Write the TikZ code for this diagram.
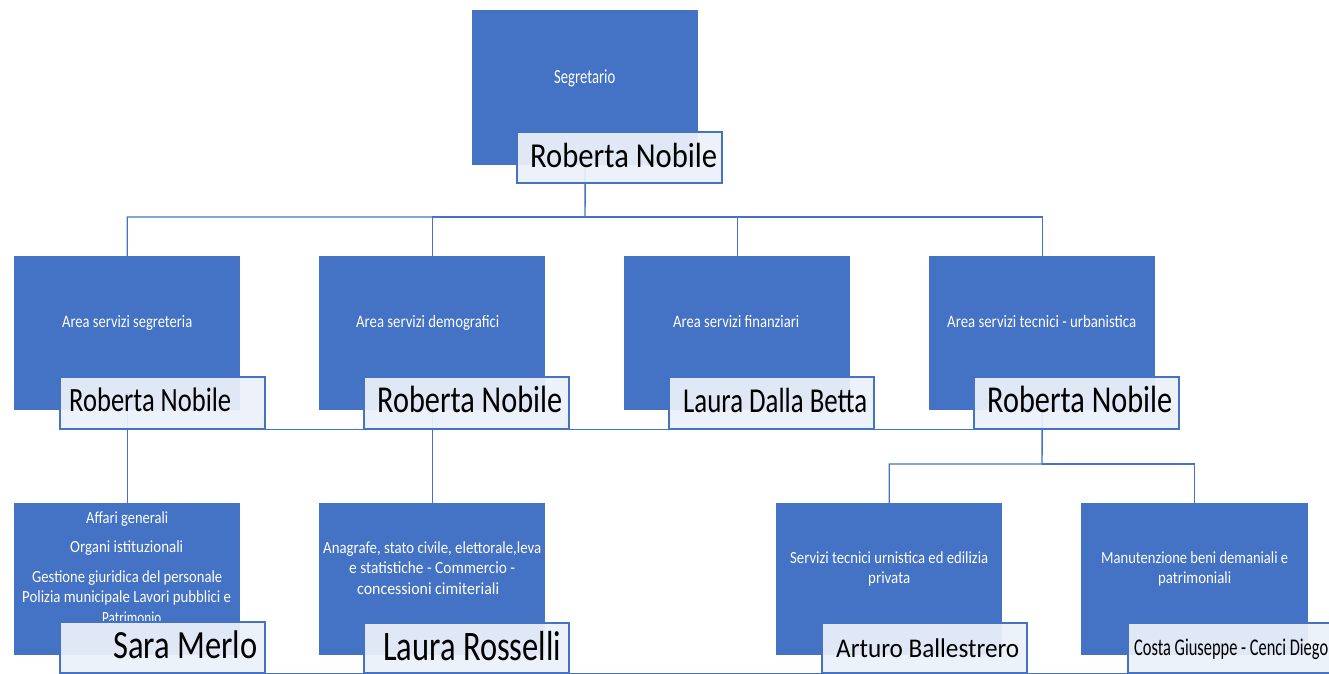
\documentclass[tikz,border=0pt]{standalone}
\usepackage{fontspec}
\setmainfont{Carlito}
\usepackage{graphicx}
\definecolor{orgblue}{HTML}{4472C4}
\definecolor{namefill}{HTML}{ECF0F9}
\newcommand\fitt[3]{\resizebox{#1pt}{\height}{\fontsize{#2pt}{#2pt}\selectfont #3}}
\tikzset{
  bluebox/.style={rectangle, fill=orgblue, draw=none, anchor=north west, inner sep=0pt},
  namebox/.style={rectangle, fill=namefill, fill opacity=0.93, draw=orgblue, line width=1.6pt, anchor=north west, inner sep=0pt, minimum width=205pt, minimum height=51pt},
  conn/.style={draw=orgblue, line width=1.4pt},
  wlbl/.style={inner sep=0pt, text=white, anchor=base west},
  blbl/.style={inner sep=0pt, text=black, anchor=base west}
}
\begin{document}
\begin{tikzpicture}[x=1pt,y=-1pt]
\useasboundingbox (0,0) rectangle (1329,673);
\clip (0,0) rectangle (1329,673);
\fill[white] (0,0) rectangle (1329,673);
% blue boxes
\node[bluebox, minimum width=226pt, minimum height=155pt] (tb) at (472,10) {};
\node[bluebox, minimum width=226pt, minimum height=154pt] (a1) at (14,256) {};
\node[bluebox, minimum width=226pt, minimum height=154pt] (a2) at (319,256) {};
\node[bluebox, minimum width=226pt, minimum height=154pt] (a3) at (624,256) {};
\node[bluebox, minimum width=226pt, minimum height=154pt] (a4) at (929,256) {};
\node[bluebox, minimum width=226pt, minimum height=152pt] (b1) at (14,503) {};
\node[bluebox, minimum width=226pt, minimum height=152pt] (b2) at (319,503) {};
\node[bluebox, minimum width=226pt, minimum height=152pt] (b3) at (776,503) {};
\node[bluebox, minimum width=227pt, minimum height=152pt] (b4) at (1081,503) {};
% texts in blue boxes
\node[wlbl] (tt) at (554,83) {\fitt{61}{20}{Segretario}};
\node[wlbl] (ta1) at (62,327) {\fitt{130}{17.5}{Area servizi segreteria}};
\node[wlbl] (ta2) at (356,327) {\fitt{143}{17.5}{Area servizi demografici}};
\node[wlbl] (ta3) at (673,327) {\fitt{126}{17.5}{Area servizi finanziari}};
\node[wlbl] (ta4) at (947,327) {\fitt{189}{17.5}{Area servizi tecnici - urbanistica}};
\node[wlbl] (tb1a) at (86,523) {\fitt{82}{17}{Affari generali}};
\node[wlbl] (tb1b) at (70,552) {\fitt{113}{17}{Organi istituzionali}};
\node[wlbl] (tb1c) at (32,582) {\fitt{190}{17}{Gestione giuridica del personale}};
\node[wlbl] (tb1d) at (22,602) {\fitt{209}{17}{Polizia municipale Lavori pubblici e}};
\node[wlbl] (tb1e) at (102,623) {\fitt{59}{17}{Patrimonio}};
\node[wlbl] (tb2a) at (323,553) {\fitt{218}{17}{Anagrafe, stato civile, elettorale,leva}};
\node[wlbl] (tb2b) at (349,573) {\fitt{166}{17}{e statistiche - Commercio -}};
\node[wlbl] (tb2c) at (357,594) {\fitt{142}{17}{concessioni cimiteriali}};
\node[wlbl] (tb3a) at (790,563) {\fitt{198}{17}{Servizi tecnici urnistica ed edilizia}};
\node[wlbl] (tb3b) at (868,583) {\fitt{42}{17}{privata}};
\node[wlbl] (tb4a) at (1101,563) {\fitt{187}{17}{Manutenzione beni demaniali e}};
\node[wlbl] (tb4b) at (1158,583) {\fitt{73}{17}{patrimoniali}};
% connectors
\coordinate (bus1) at (585,217);
\coordinate (bus2) at (1042,464);
\draw[conn] (tb.south) -- (bus1) -| (a1.north);
\draw[conn] (bus1) -| (a2.north);
\draw[conn] (bus1) -| (a3.north);
\draw[conn] (bus1) -| (a4.north);
\draw[conn] (a1.south) -- (b1.north);
\draw[conn] (a2.south) -- (b2.north);
\draw[conn] (a4.south) -- (bus2) -| (b3.north);
\draw[conn] (bus2) -| (b4.north);
% name boxes
\node[namebox] (nt) at (516,131) {};
\node[namebox, minimum height=52pt] (n1) at (59,376) {};
\node[namebox, minimum height=52pt] (n2) at (363,376) {};
\node[namebox, minimum height=52pt] (n3) at (668,376) {};
\node[namebox, minimum height=52pt] (n4) at (973,376) {};
\node[namebox] (m1) at (59,621) {};
\node[namebox, minimum height=50pt] (m2) at (363,622) {};
\node[namebox, minimum height=50pt] (m3) at (821,622) {};
\node[namebox, minimum width=230pt, minimum height=50pt] (m4) at (1127,622) {};
\draw[conn] (n1.south west) -- (n4.south east);
\draw[conn] (m1.south west) -- (m4.south east);
% names
\node[blbl] (ntt) at (530,167) {\fitt{187}{35}{Roberta Nobile}};
\node[blbl] (n1t) at (69,411) {\fitt{162}{34}{Roberta Nobile}};
\node[blbl] (n2t) at (377,412) {\fitt{185}{38}{Roberta Nobile}};
\node[blbl] (n3t) at (683,412) {\fitt{184}{35}{Laura Dalla Betta}};
\node[blbl] (n4t) at (987,412) {\fitt{185}{38}{Roberta Nobile}};
\node[blbl] (m1t) at (113,658) {\fitt{144}{40}{Sara Merlo}};
\node[blbl] (m2t) at (383,660) {\fitt{178}{42}{Laura Rosselli}};
\node[blbl] (m3t) at (836,657) {\fitt{183}{27}{Arturo Ballestrero}};
\node[blbl] (m4t) at (1134,655) {\fitt{194}{24}{Costa Giuseppe - Cenci Diego}};
\end{tikzpicture}
\end{document}
